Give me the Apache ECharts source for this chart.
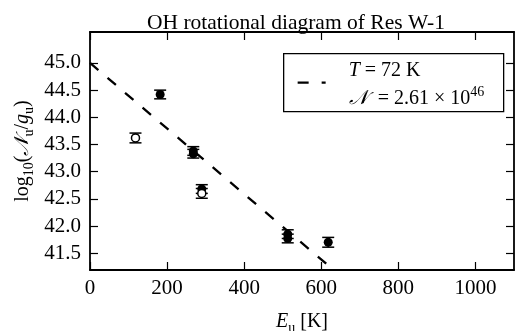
<!DOCTYPE html>
<html>
<head>
<meta charset="utf-8">
<script src="https://cdn.jsdelivr.net/npm/echarts@6/dist/echarts.min.js"></script>
<style>
html, body { margin: 0; padding: 0; background: #fff; }
#chart { width: 529px; height: 331px; }
</style>
</head>
<body>
<div id="chart"></div>
<script>
// [Eu (K), log10(N_u/g_u), error]
var filledPoints = [[182, 44.42, 0.08], [268, 43.38, 0.08], [268, 43.33, 0.08], [290, 42.68, 0.08],
                    [513, 41.85, 0.08], [513, 41.77, 0.08], [618, 41.70, 0.09]];
var openPoints   = [[118, 43.62, 0.09], [290, 42.60, 0.09]];
var fitLine      = [[0, 45.0], [622, 41.25]];
var xTicks = [0, 200, 400, 600, 800, 1000];
var yTicks = [41.5, 42.0, 42.5, 43.0, 43.5, 44.0, 44.5, 45.0];

var serif = 'Liberation Serif';
var chart = echarts.init(document.getElementById('chart'));

function errorBar(params, api) {
    var x = api.value(0), y = api.value(1), e = api.value(2);
    var top = api.coord([x, y + e]);
    var bot = api.coord([x, y - e]);
    var hw = 6;
    var st = { stroke: '#000', lineWidth: 1.5 };
    return {
        type: 'group',
        children: [
            { type: 'line', shape: { x1: top[0], y1: top[1], x2: bot[0], y2: bot[1] }, style: st },
            { type: 'line', shape: { x1: top[0] - hw, y1: top[1], x2: top[0] + hw, y2: top[1] }, style: st },
            { type: 'line', shape: { x1: bot[0] - hw, y1: bot[1], x2: bot[0] + hw, y2: bot[1] }, style: st }
        ]
    };
}

var frame = { show: true, onZero: false, lineStyle: { color: '#000', width: 1.8 } };
var ticksIn = function (vals) {
    return { show: true, inside: true, length: 8, customValues: vals, lineStyle: { color: '#000', width: 1.2 } };
};
var mathRich = {
    n:   { fontFamily: serif, fontSize: 20, color: '#000', lineHeight: 26, verticalAlign: 'middle' },
    i:   { fontFamily: serif, fontSize: 20, color: '#000', fontStyle: 'italic', lineHeight: 26, verticalAlign: 'middle' },
    sub: { fontFamily: serif, fontSize: 14, color: '#000', lineHeight: 13, verticalAlign: 'bottom' },
    sup: { fontFamily: serif, fontSize: 14, color: '#000', lineHeight: 12, verticalAlign: 'top' }
};

var option = {
    animation: false,
    backgroundColor: '#fff',
    title: {
        text: 'OH rotational diagram of Res W-1',
        left: 142,
        top: 7,
        textStyle: { fontFamily: serif, fontSize: 21.5, fontWeight: 'normal', color: '#000' }
    },
    grid: { left: 90, right: 15, top: 32, bottom: 61, outerBoundsMode: 'none', containLabel: false },
    xAxis: [
        {
            type: 'value', min: 0, max: 1100,
            axisLine: frame, axisTick: ticksIn(xTicks), splitLine: { show: false },
            axisLabel: {
                customValues: xTicks, color: '#000', fontFamily: serif, fontSize: 21, margin: 8,
                formatter: function (v) { return String(v); }
            },
            name: '{i|E}{sub|u}{n| [K]}',
            nameLocation: 'middle', nameGap: 39, nameMoveOverlap: false,
            nameTextStyle: { rich: mathRich }
        },
        {
            type: 'value', min: 0, max: 1100, position: 'top',
            axisLine: frame, axisTick: ticksIn(xTicks), splitLine: { show: false },
            axisLabel: { show: false }
        }
    ],
    yAxis: [
        {
            type: 'value', min: 41.19, max: 45.57,
            axisLine: frame, axisTick: ticksIn(yTicks), splitLine: { show: false },
            axisLabel: {
                customValues: yTicks, color: '#000', fontFamily: serif, fontSize: 21, margin: 9,
                formatter: function (v) { return v.toFixed(1); }
            },
            name: '{n|log}{sub|10}{n|(}{i|𝒩}{sub|u}{n|/}{i|g}{sub|u}{n|)}',
            nameLocation: 'middle', nameRotate: 90, nameGap: 54, nameMoveOverlap: false,
            nameTextStyle: { rich: mathRich }
        },
        {
            type: 'value', min: 41.19, max: 45.57, position: 'right',
            axisLine: frame, axisTick: ticksIn(yTicks), splitLine: { show: false },
            axisLabel: { show: false }
        }
    ],
    series: [
        {
            name: 'fit',
            type: 'line',
            data: fitLine,
            symbol: 'none',
            lineStyle: { color: '#000', width: 2.3, type: [11, 12] },
            z: 2
        },
        {
            type: 'custom',
            renderItem: errorBar,
            data: filledPoints.concat(openPoints),
            encode: { x: 0, y: 1 },
            z: 3
        },
        {
            type: 'scatter',
            data: filledPoints,
            symbol: 'circle', symbolSize: 9,
            itemStyle: { color: '#000', opacity: 1 },
            z: 4
        },
        {
            type: 'scatter',
            data: openPoints,
            symbol: 'circle', symbolSize: 8,
            itemStyle: { color: '#fff', borderColor: '#000', borderWidth: 1.5, opacity: 1 },
            z: 5
        }
    ],
    graphic: [
        {
            type: 'group', left: 283, top: 53,
            children: [
                { type: 'rect', shape: { x: 0, y: 0, width: 220, height: 58 },
                  style: { fill: '#fff', stroke: '#000', lineWidth: 1.3 } },
                { type: 'line', shape: { x1: 14, y1: 29, x2: 42, y2: 29 },
                  style: { stroke: '#000', lineWidth: 2.3, lineDash: [11, 13] } },
                { type: 'text', x: 65, y: 17,
                  style: { text: '{i|T}{n| = 72 K}', rich: mathRich, verticalAlign: 'middle' } },
                { type: 'text', x: 65, y: 45,
                  style: { text: '{i|𝒩}{n|\u2002= 2.61 × 10}{sup|46}', rich: mathRich, verticalAlign: 'middle' } }
            ]
        }
    ]
};

chart.setOption(option);
</script>
</body>
</html>
